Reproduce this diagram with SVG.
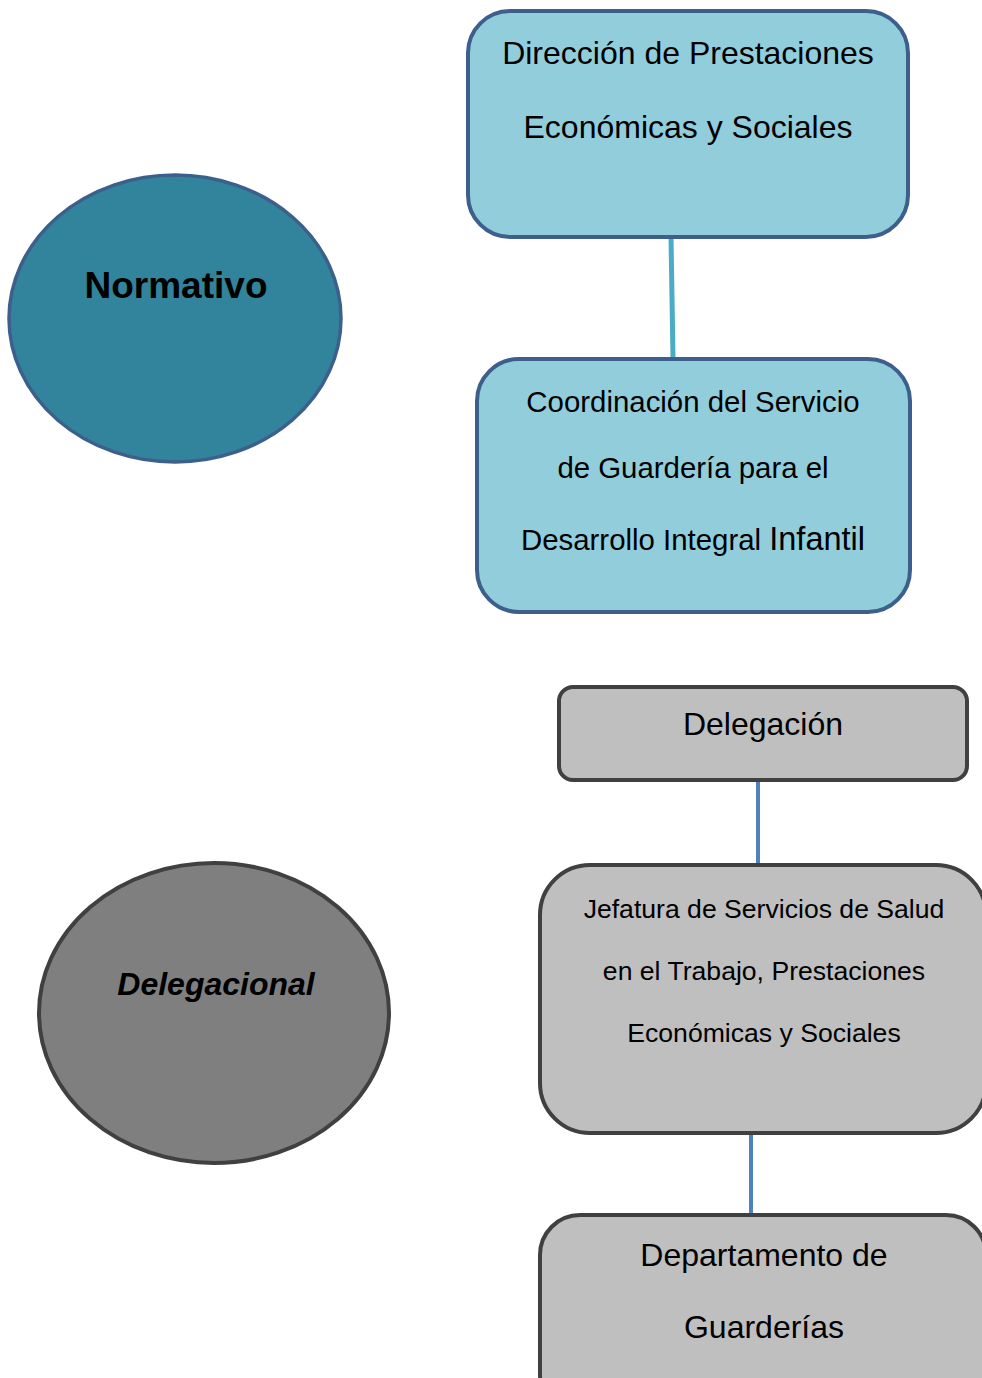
<svg xmlns="http://www.w3.org/2000/svg" width="982" height="1378" viewBox="0 0 982 1378">
<style>
.t{font-family:"Liberation Sans",Arial,sans-serif;fill:#000;text-anchor:middle}
.blue{fill:#92cddc;stroke:#3c5f8c;stroke-width:4}
.gray{fill:#bfbfbf;stroke:#404040;stroke-width:4}
.c1{stroke:#4bacc6;stroke-width:5;fill:none}
.c2{stroke:#4f81bd;stroke-width:4;fill:none}
</style>
<rect width="982" height="1378" fill="#fff"/>
<g id="connectors">
<line class="c1" x1="671" y1="237" x2="673" y2="358"/>
<line class="c2" x1="758" y1="781" x2="758" y2="864"/>
<line class="c2" x1="751" y1="1134" x2="751" y2="1214"/>
</g>
<g id="normativo">
<ellipse cx="175" cy="318.5" rx="166" ry="143.5" fill="#31849b" stroke="#3c5f8c" stroke-width="3.5"/>
<text class="t" x="176" y="298" font-size="37" font-weight="bold">Normativo</text>
</g>
<g id="direccion">
<rect class="blue" x="468" y="11" width="440" height="226" rx="42"/>
<text class="t" x="688" y="64" font-size="32">Dirección de Prestaciones</text>
<text class="t" x="688" y="138" font-size="32">Económicas y Sociales</text>
</g>
<g id="coordinacion">
<rect class="blue" x="477" y="359" width="433" height="253" rx="42"/>
<text class="t" x="693" y="412" font-size="29.4">Coordinación del Servicio</text>
<text class="t" x="693" y="478" font-size="29.4">de Guardería para el</text>
<text class="t" x="693" y="550" font-size="29.4">Desarrollo Integral <tspan font-size="32.5">Infantil</tspan></text>
</g>
<g id="delegacional">
<ellipse cx="214" cy="1013" rx="175" ry="150" fill="#7f7f7f" stroke="#404040" stroke-width="4"/>
<text class="t" x="216" y="995" font-size="32" font-weight="bold" font-style="italic">Delegacional</text>
</g>
<g id="delegacion">
<rect class="gray" x="559" y="687" width="408" height="93" rx="14"/>
<text class="t" x="763" y="735" font-size="32">Delegación</text>
</g>
<g id="jefatura">
<rect class="gray" x="540" y="865" width="446" height="268" rx="50"/>
<text class="t" x="764" y="918" font-size="26.6">Jefatura de Servicios de Salud</text>
<text class="t" x="764" y="980" font-size="26.6">en el Trabajo, Prestaciones</text>
<text class="t" x="764" y="1042" font-size="26.6">Económicas y Sociales</text>
</g>
<g id="departamento">
<rect class="gray" x="540" y="1215" width="446" height="200" rx="40"/>
<text class="t" x="764" y="1266" font-size="32">Departamento de</text>
<text class="t" x="764" y="1338" font-size="32">Guarderías</text>
</g>
</svg>
